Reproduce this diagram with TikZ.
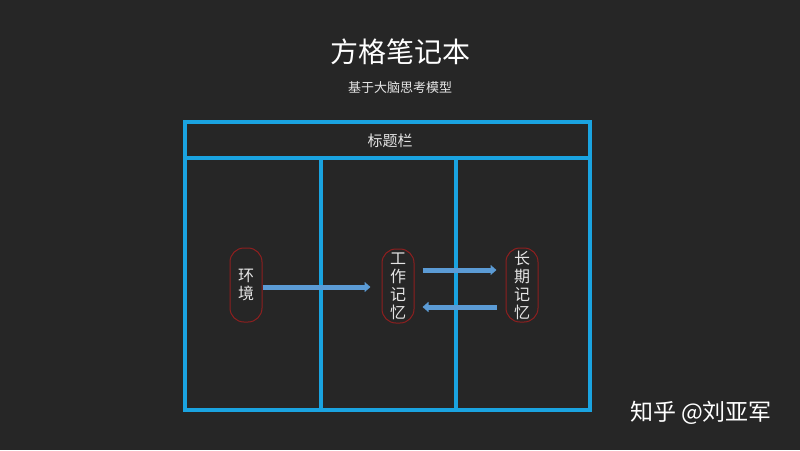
\documentclass[tikz,border=0pt]{standalone}
\usepackage{fontspec}
\setmainfont{Noto Sans CJK SC}
\usetikzlibrary{arrows.meta}
\definecolor{bgdark}{HTML}{262626}
\definecolor{frameblue}{HTML}{1AA3E0}
\definecolor{flowblue}{HTML}{5B9BD5}
\definecolor{capred}{HTML}{8E1F1F}
\begin{document}
\begin{tikzpicture}[x=1pt, y=-1pt, very thick]
			\tikzstyle{frame} = [draw=frameblue, line width=3.2pt]
			\tikzstyle{capsule} = [rectangle, draw=capred, line width=1pt, rounded corners=14pt, minimum width=32pt, minimum height=74pt, inner sep=0pt, text=white!90!black, font=\fontsize{16}{18}\selectfont, align=center]
			\tikzstyle{flow} = [draw=flowblue, line width=5pt, -{Triangle[length=6pt, width=10pt]}]

			\fill[bgdark] (0, 0) rectangle (800, 450);
			\useasboundingbox (0, 0) rectangle (800, 450);

			\node[text=white, font=\fontsize{28}{30}\selectfont] (title) at (400, 52) {方格笔记本};
			\node[text=white!90!black, font=\fontsize{13}{15}\selectfont] (subtitle) at (400, 88) {基于大脑思考模型};

			\draw[frame] (185, 122) rectangle (590, 410);
			\draw[frame] (185, 158) -- (590, 158);
			\foreach \xpos in {321, 456} {
				\draw[frame] (\xpos, 158) -- (\xpos, 410);
			}
			\node[text=white!90!black, font=\fontsize{15}{17}\selectfont] (bar) at (390, 141) {标题栏};

			\node[capsule] (env) at (246, 285) {环\\境};
			\node[capsule] (wm) at (398, 286) {工\\作\\记\\忆};
			\node[capsule] (ltm) at (522, 285) {长\\期\\记\\忆};

			\draw[flow, shorten >=11pt] ([yshift=-2pt]env.east) -- ([yshift=-1pt]wm.west);
			\draw[flow, shorten <=8pt, shorten >=9pt] ([yshift=16pt]wm.east) -- ([yshift=15pt]ltm.west);
			\draw[flow, shorten <=9pt, shorten >=8pt] ([yshift=-22pt]ltm.west) -- ([yshift=-21pt]wm.east);

			\node[text=white, font=\fontsize{23}{25}\selectfont] (mark) at (701, 413) {知乎 @刘亚军};
		\end{tikzpicture}
\end{document}
